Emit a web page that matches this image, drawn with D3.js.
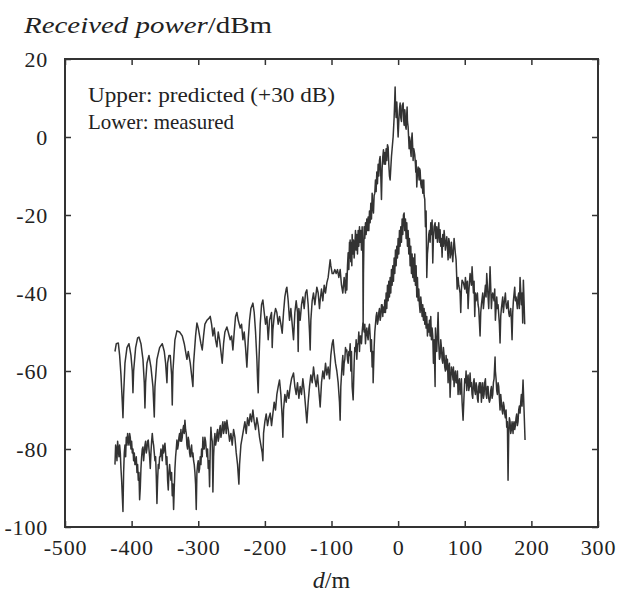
<!DOCTYPE html>
<head>
    <meta charset="utf-8">
    <title>Received power vs distance</title>
    <style>
        body { margin: 0; background: #fff; }
        svg { display: block; }
    </style>
</head>
<body>

<svg width="617" height="594"></svg>

<script src="https://d3js.org/d3.v7.min.js"></script>

<script>

    // Tick values for both axes
    const xTicks = [-500, -400, -300, -200, -100, 0, 100, 200, 300];
    const yTicks = [-100, -80, -60, -40, -20, 0, 20];

    const legendLines = ["Upper: predicted (+30 dB)", "Lower: measured"];

    // Upper trace: predicted received power (shifted +30 dB), [distance m, dBm]
    const predicted = [
        [-425,-55],[-423,-53],[-420,-52.8],[-418,-56],[-416,-61],[-414,-68],[-413,-72],[-412,-66],[-410,-58],[-407,-54],
        [-404,-53],[-401,-56],[-399,-60],[-398,-65.6],[-397,-60],[-394,-54],[-391,-51.5],[-389,-51.3],[-386,-53],[-383,-57],
        [-381,-63],[-380,-69.5],[-379,-63],[-377,-58],[-374,-56],[-371,-59],[-368,-64],[-366,-71.8],[-365,-64],[-362,-57],
        [-358,-54],[-354,-53],[-351,-55],[-349,-58],[-347,-63],[-346,-58],[-344,-56],[-342,-56],[-340,-61],[-339,-68.7],
        [-338,-60],[-335,-52],[-332,-49.7],[-328,-50],[-324,-51],[-321,-53],[-317,-57],[-315,-55],[-312,-58],[-310,-61],
        [-308,-64],[-307,-58],[-304,-51],[-302,-47.7],[-300,-49],[-298,-51],[-296,-53],[-294,-54.6],[-292,-51],[-290,-48],
        [-287,-47],[-284,-46.5],[-282,-46],[-280,-48],[-278,-51],[-276,-49],[-274,-52],[-272,-53.8],[-270,-50],[-268,-52],
        [-266,-55],[-264,-58],[-262,-53],[-260,-50],[-257,-48.7],[-255,-50],[-252,-52],[-250,-51],[-248,-54.6],[-246,-50],
        [-244,-46],[-242,-45],[-240,-47],[-237,-49],[-235,-48],[-233,-52],[-231,-50],[-229,-54],[-227,-59],[-225,-52],
        [-223,-47],[-221,-44],[-218,-42.6],[-216,-45],[-214,-50],[-212,-57],[-211,-62],[-210,-65.6],[-209,-58],[-207,-48],
        [-205,-43],[-203,-41.8],[-201,-45],[-199,-48],[-197,-46],[-195,-52],[-193,-47],[-190,-45],[-189,-54],[-188,-49.5],
        [-186,-46],[-184,-44],[-182,-45],[-180,-48],[-178,-46],[-176,-48],[-174,-50.3],[-172,-45],[-170,-41],[-168,-39],
        [-167,-38.5],[-165,-42],[-163,-47],[-161,-44],[-159,-48],[-157,-52],[-155,-45],[-153,-42],[-151,-45],[-150,-55],
        [-149,-44],[-147,-47],[-145,-43],[-143,-41],[-141,-44],[-139,-40],[-137,-39.2],[-135,-43],[-133,-50],[-132,-54.6],
        [-131,-47],[-129,-42],[-127,-40],[-125,-43],[-122,-38.5],[-120,-40],[-118,-44],[-117,-41.8],[-115,-39],[-113,-42],
        [-111,-38],[-109,-40],[-107,-37.4],[-105,-36],[-103,-33],[-102,-31.5],[-101,-33],[-99,-35],[-97,-35],[-95,-34],
        [-93,-35],[-91,-34],[-89,-36],[-87,-34],[-85,-38],[-83,-40],[-81,-36],[-79,-40],[-78,-35],[-77,-39.2],
        [-76,-33],[-75,-29.7],[-74,-34],[-73,-27],[-72.5,-31],[-72,-26.4],[-71,-32],[-70,-27],[-69.5,-33],[-69,-25],
        [-68,-30],[-67,-26.4],[-66,-31],[-65,-28],[-64,-24],[-63,-29],[-62,-25],[-61,-30],[-60,-24],[-59,-28],
        [-58,-23],[-57,-27],[-56,-24],[-55,-29],[-54,-23],[-53,-30],[-52.5,-48],[-52,-35],[-51,-23],[-50,-26],
        [-49,-22],[-48,-25],[-47,-21],[-46,-24],[-45,-20.5],[-44,-24],[-43,-19],[-42,-22],[-41,-17],[-40,-21],
        [-39,-14.4],[-38,-18],[-37,-19.5],[-36,-15],[-35,-14.4],[-34,-11],[-33,-14],[-32,-9],[-31,-12],[-30,-7],
        [-29,-10],[-28,-6],[-27,-5],[-26,-10],[-25,-16],[-24,-8],[-23,-5],[-22,-3.3],[-21,-7],[-20,-4],
        [-19,-7],[-18,-3],[-17,-6],[-16,-2],[-15,-2.6],[-14,-7],[-13,-10],[-12,-11],[-11,-8],[-10,-5],
        [-9,-3],[-8,-1],[-7.5,0],[-6,5],[-5,10],[-4.5,12.8],[-4,9],[-3,5],[-2,9],[-1.5,7],
        [-0.5,2],[0,0],[1,4],[2,7],[3,8.7],[4,5],[5,4],[6,8],[7.5,8.7],[8.5,4],
        [9,3],[10,7],[10.5,6],[11,3],[12,2],[13,6],[13.5,7.7],[14,4],[15,2.6],[16,-1],
        [16.5,-3],[17,0],[18,-1.5],[19,-4],[19.5,-5],[20,-1],[21,1],[22,-3],[22.5,-6],[23.5,-3],
        [25,-4.6],[26,-7],[26.5,-9],[27,-6],[28,-12.8],[29,-9],[30,-7.7],[31,-10],[31.5,-11],[32,-8],
        [33,-8.5],[34,-12],[35,-13],[36,-11],[37,-14.4],[38,-12],[38.5,-11],[39,-15],[40,-16],[41,-23],
        [42,-19],[43,-36],[44,-30],[45,-28],[46,-25],[47,-24],[48,-27],[49,-22],[50,-25],[51,-21.3],
        [52,-32.3],[53,-26],[54,-23],[55.5,-22],[56.5,-26],[58,-23],[59,-27],[60,-24.6],[61,-22],[62,-27],
        [63,-23.8],[64,-28],[65,-26],[66,-30.8],[67,-25],[68,-28],[69,-24],[70,-26],[71,-29],[73,-25.6],
        [74,-28],[75,-31.5],[76,-26],[77,-27],[78,-31],[79,-30],[80,-27],[81,-29.7],[82,-32],[84,-26],
        [85,-28],[86,-30],[87,-31.5],[88.6,-39],[90,-36],[91,-38],[93,-40],[94,-45],[95,-39],[96,-36.7],
        [98,-37.4],[100,-39],[101,-36],[103,-40],[104,-37],[105,-44],[106,-40],[108,-35],[110,-38],
        [111,-33.3],[113,-40],[114,-37],[115,-46],[116,-40],[117,-42],[119,-40],[120,-43],[121,-44],[123,-51],
        [124,-45],[125,-43],[127,-40],[128,-44],[129,-42],[131,-38],[132,-41],[133,-35],[135,-41],[136,-44],
        [138,-33.3],[139,-38.5],[140,-44],[141,-41],[142,-40],[144,-42],[145,-39],[146,-47],[148,-41],[149,-44],
        [150,-43],[152,-48],[153,-52.8],[154,-46],[155,-44],[157,-41],[158,-45],[159,-43],[161,-40],[162,-43],
        [163,-44],[165,-42],[166,-45],[167,-46],[169,-44],[170,-47],[171,-52],[172,-45],[173,-42],[175,-38.5],
        [176,-42],[177,-41],[179,-44],[180,-41],[181,-40],[182,-44],[183,-36],[185,-43],[186,-40],[187,-47.7],
        [188,-36.7],[189,-42],[190,-48]
    ];

    // Lower trace: measured received power, [distance m, dBm]
    const measured = [
        [-425,-84],[-424,-79],[-423,-80],[-422,-83],[-421,-78],[-420,-80],[-419,-82],[-418,-79],[-417,-81],[-416,-85],
        [-415,-88],[-413,-96],[-412,-86],[-411,-81],[-410,-79],[-409,-82],[-408,-77],[-407,-79],[-406,-76],[-405,-78],
        [-404,-79],[-403,-76],[-402,-77],[-401,-80],[-400,-78],[-399,-81],[-398,-80],[-397,-83],[-396,-81],[-395,-84],
        [-394,-84],[-393,-82],[-392,-86],[-391,-84],[-390,-88],[-389,-86],[-388,-93],[-387,-90],[-386,-85],[-385,-82],
        [-384,-80],[-383,-79.5],[-382,-83],[-381,-81],[-380,-79],[-379,-78],[-378,-81],[-377,-80],[-376,-78],[-375,-77.7],
        [-374,-80],[-373,-82],[-372,-85],[-371,-81],[-370,-78],[-369,-76],[-368,-78],[-367,-79],[-366,-81],[-365,-83],
        [-364,-82],[-363,-87],[-362,-94],[-361,-88],[-360,-84],[-359,-85],[-358,-82],[-357,-82],[-356,-80],[-355,-81],
        [-354,-83],[-353,-79],[-352,-81],[-351,-80],[-350,-78.5],[-349,-81],[-348,-84],[-347,-82],[-346,-88],[-345,-90.5],
        [-344,-86],[-343,-84],[-342,-86],[-341,-88],[-340,-86],[-339,-92],[-338,-89],[-337,-95.5],[-336,-90],[-335,-85],
        [-334,-82],[-333,-80],[-332,-77.7],[-331,-80],[-330,-79],[-329,-77],[-328,-76],[-327,-78],[-326,-75],[-325,-78],
        [-324,-77],[-323,-75],[-322,-74],[-321,-76],[-320,-72.6],[-319,-75],[-318,-76],[-317,-79],[-316,-80],[-315,-77],
        [-314,-78],[-313,-81],[-312,-82],[-311,-80],[-310,-79],[-309,-82],[-308,-81],[-307,-83],[-306,-84],[-305,-86],
        [-304,-89],[-303,-95.5],[-302,-86],[-301,-84],[-300,-83],[-299,-86],[-298,-85],[-297,-82],[-296,-84],[-295,-80],
        [-294,-82],[-293,-77],[-292,-80],[-291,-80],[-290,-77],[-289,-78],[-288,-80],[-287,-82],[-286,-80],[-285,-85],
        [-284,-83],[-283,-89.7],[-282,-80],[-281,-74.4],[-280,-77],[-279,-78],[-278,-91],[-277,-82],[-276,-78],[-275,-76],
        [-274,-79],[-273,-78],[-272,-76],[-271,-75],[-270,-78],[-269,-77],[-268,-75],[-267,-74],[-266,-77],[-265,-76],
        [-264,-74],[-263,-73],[-262,-76],[-261,-75],[-260,-73],[-259,-74],[-258,-76],[-257,-72.6],[-256,-74],[-255,-75],
        [-253,-78],[-251,-76],[-249,-79],[-247,-75],[-245,-77],[-243,-81],[-241,-84],[-239,-89],[-238,-84],[-236,-79],
        [-234,-77],[-232,-75],[-230,-73],[-228,-76],[-226,-72],[-224,-74],[-222,-71],[-220,-73],[-218,-70],[-216,-73],
        [-214,-75],[-212,-72],[-210,-74],[-208,-77],[-206,-79],[-204,-81],[-203,-83],[-202,-76],[-200,-73],[-198,-71],
        [-196,-74],[-194,-72],[-192,-70.8],[-190,-74],[-188,-71],[-186,-68],[-184,-70],[-182,-66],[-180,-64],[-178,-62.3],
        [-176,-66],[-174,-72],[-173,-77],[-172,-70],[-170,-66],[-168,-68],[-166,-65],[-164,-67],[-162,-64],[-160,-62],
        [-158,-61],[-157,-60.5],[-155,-64],[-153,-66],[-151,-63],[-149,-67],[-147,-64],[-145,-66],[-143,-62],[-141,-65],
        [-139,-69],[-137,-73.3],[-135,-68],[-133,-64],[-131,-61],[-129,-63],[-127,-59],[-125,-62],[-123,-64],[-121,-61],
        [-119,-65],[-117,-69.2],[-115,-63],[-113,-60],[-111,-62],[-109,-58],[-107,-61],[-105,-59],[-103,-62],[-101,-56],
        [-99,-53],[-97.5,-52],[-96,-55],[-94,-58],[-92,-60],[-90,-63],[-88,-68],[-87,-72.6],[-86,-64],[-84,-58],
        [-83,-56],[-82,-61],[-81,-58],[-80,-57],[-79,-54],[-78,-55],[-77,-54.6],[-76,-57],[-75,-58],[-74,-55],
        [-73,-56],[-72,-53],[-71,-60],[-70,-55],[-69,-64],[-67.5,-67.4],[-66,-58],[-65,-54],[-64,-55],[-63,-52],
        [-62,-57],[-61,-53],[-60,-53],[-59,-50],[-58,-55],[-57,-51],[-56,-51],[-55,-53],[-54,-50],[-53,-48],
        [-52.5,-47.7],[-51,-50],[-50,-48],[-49,-53],[-48,-50],[-47,-49],[-46,-51],[-45,-52],[-44,-49],[-43,-48],
        [-42,-51],[-41,-55],[-40,-52],[-39,-59],[-38,-55],[-37.5,-63],[-36,-54],[-35,-50],[-34,-48],[-33,-46],
        [-32,-45],[-31,-48],[-30,-47],[-29,-45],[-28,-44],[-27,-47],[-26,-46],[-25,-43],[-24,-43],[-23,-46],
        [-22.5,-43.6],[-21,-45],[-20,-41.8],[-19,-45],[-18,-40],[-17,-44],[-16,-38],[-15,-42],[-14,-37],[-13,-41],
        [-12,-36],[-11,-40],[-10,-34],[-9,-38],[-8,-33],[-7,-37],[-6,-31],[-5,-35],[-4,-29],[-3,-33],
        [-2,-28],[-1,-31],[0,-26],[1,-30],[2,-24],[3,-28],[4,-23],[5,-27],[6,-21],[7,-25],
        [8,-20],[9,-19.5],[10,-24],[11,-21],[12,-26],[13,-22],[14,-28],[15,-24],[16,-30],[17,-26],
        [18,-33],[19,-28],[20,-35],[21,-30],[22,-36],[23,-31],[24,-37],[25,-30],[26,-38],[27,-33],
        [28,-41],[29,-36],[30,-42],[31,-39],[32,-43],[33,-45],[34,-41],[35,-43],[36,-46],[37,-43],
        [38,-47],[39,-44],[40,-48],[41,-45],[42,-49],[43,-46],[44,-51],[45,-48],[46,-50],[47,-47],
        [48,-51],[49,-46],[50,-52],[51,-49],[52,-51],[53,-58],[54,-52],[55.5,-64],[56,-49],[57,-53],
        [58,-55],[59,-50],[60,-45],[61,-53],[62,-57],[63,-56.4],[64,-52],[65,-54],[66,-57],[67,-58],
        [68,-54],[69,-56],[70,-59],[71,-60],[72,-56],[73.5,-59.7],[74,-57],[75,-63],[76,-59],[77,-58],
        [78,-66.7],[79,-62],[80,-59],[81,-60],[82.5,-62.3],[83,-59],[84,-64],[85,-61],[86,-60],[87,-63],
        [88,-63],[89,-60],[90,-66],[91,-63],[92,-62],[93,-66],[94,-65],[95,-62],[96,-68],[97.5,-72.6],
        [99,-66],[100,-62],[101,-63],[102,-60],[103,-65],[104,-62],[105,-61],[106,-65],[107,-64],[108,-60.5],
        [109,-64],[110,-63],[111,-66],[112,-67],[113,-63],[114,-62],[115,-65],[116,-66],[117,-63],[118,-64],
        [119,-67],[120,-68],[121,-64],[122,-63],[123,-65.6],[124,-63],[125,-68],[126,-65],[127,-63],[128,-67],
        [129,-66],[130,-63],[131,-62],[132,-66],[133,-67],[134,-64],[135,-64],[136,-67],[137,-68],[138,-67.4],
        [139,-65],[140,-64],[141,-67],[142,-66],[143,-63],[144,-62],[145.5,-56.4],[146,-60],[147,-62],[148,-65],
        [149,-66],[150,-63],[151,-64],[152,-67],[153,-70],[154,-66],[155,-68],[156,-70],[157,-71],[158,-68],
        [159,-69],[160,-71],[161,-72],[162,-70],[163,-74.4],[164,-73],[165,-88],[166,-76],[167,-72],[168,-73],
        [169,-76],[170,-75],[171,-73],[172.5,-76],[173,-74],[174,-73],[175,-75],[176,-74],[177,-72],[178,-71],
        [179,-74],[180,-73],[181,-70],[182,-69],[183,-70.8],[184,-68],[185,-66],[186,-69],[187.5,-62.3],[189,-70],
        [190.5,-77.7]
    ];

    const svg = d3.select("svg");

    // Plot area in pixels
    const plotLeft = 65, plotRight = 598, plotTop = 59, plotBottom = 527;

    const x = d3.scaleLinear().domain([-500, 300]).range([plotLeft, plotRight]);
    const y = d3.scaleLinear().domain([-100, 20]).range([plotBottom, plotTop]);

    const serif = "'Liberation Serif', 'DejaVu Serif', serif";
    const ink = "#333";

    // Traces
    const line = d3.line()
        .x(d => x(d[0]))
        .y(d => y(d[1]));

    svg.selectAll("path.trace")
        .data([predicted, measured])
        .enter().append("path")
            .attr("class", "trace")
            .attr("d", line)
            .attr("fill", "none")
            .attr("stroke", "#333")
            .attr("stroke-width", 1.5)
            .attr("stroke-linejoin", "round");

    // Axes with inward ticks
    const styleAxis = function(g) {
        g.select(".domain").remove();
        g.selectAll(".tick line").attr("stroke", ink).attr("stroke-width", 1.5);
        g.selectAll("text")
            .attr("fill", "#222")
            .attr("font-family", serif)
            .attr("font-size", 22)
            .attr("letter-spacing", 0.8);
    };

    svg.append("g")
        .attr("transform", "translate(0," + plotBottom + ")")
        .call(d3.axisBottom(x).tickValues(xTicks).tickSizeInner(-6).tickSizeOuter(0)
            .tickPadding(12).tickFormat(d => String(d)))
        .call(styleAxis);

    svg.append("g")
        .attr("transform", "translate(" + plotLeft + ",0)")
        .call(d3.axisLeft(y).tickValues(yTicks).tickSizeInner(-6).tickSizeOuter(0)
            .tickPadding(17).tickFormat(d => String(d)))
        .call(styleAxis);

    svg.append("g")
        .attr("transform", "translate(0," + plotTop + ")")
        .call(d3.axisTop(x).tickValues(xTicks).tickSizeInner(-6).tickSizeOuter(0).tickFormat(""))
        .call(styleAxis);

    svg.append("g")
        .attr("transform", "translate(" + plotRight + ",0)")
        .call(d3.axisRight(y).tickValues(yTicks).tickSizeInner(-6).tickSizeOuter(0).tickFormat(""))
        .call(styleAxis);

    // Frame
    svg.append("rect")
        .attr("x", plotLeft)
        .attr("y", plotTop)
        .attr("width", plotRight - plotLeft)
        .attr("height", plotBottom - plotTop)
        .attr("fill", "none")
        .attr("stroke", ink)
        .attr("stroke-width", 2);

    // Legend text inside the frame (widths matched to the scanned original)
    const legendWidths = [247, 146];
    svg.selectAll("text.legend")
        .data(legendLines)
        .enter().append("text")
            .attr("class", "legend")
            .attr("x", 88)
            .attr("y", (d, i) => 102 + i * 27)
            .attr("font-family", serif)
            .attr("font-size", 21)
            .attr("textLength", (d, i) => legendWidths[i])
            .attr("lengthAdjust", "spacingAndGlyphs")
            .attr("fill", "#222")
            .text(d => d);

    // Axis titles
    const yTitle = svg.append("text")
        .attr("x", 24)
        .attr("y", 33)
        .attr("font-family", serif)
        .attr("font-size", 24)
        .attr("textLength", 248)
        .attr("lengthAdjust", "spacingAndGlyphs")
        .attr("fill", "#222");
    yTitle.append("tspan").attr("font-style", "italic").text("Received power");
    yTitle.append("tspan").text("/dBm");

    const xTitle = svg.append("text")
        .attr("x", (plotLeft + plotRight) / 2)
        .attr("y", 588)
        .attr("text-anchor", "middle")
        .attr("font-family", serif)
        .attr("font-size", 24)
        .attr("fill", "#222");
    xTitle.append("tspan").attr("font-style", "italic").text("d");
    xTitle.append("tspan").text("/m");

</script>

</body>
